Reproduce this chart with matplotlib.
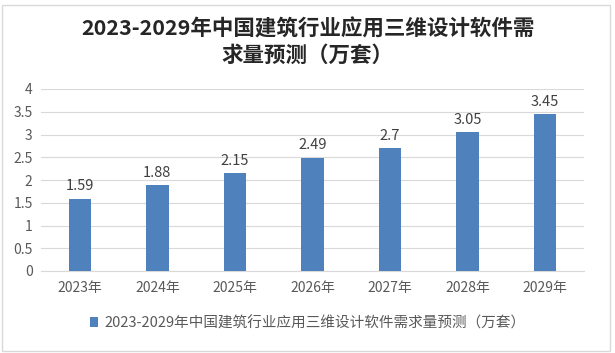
import matplotlib
matplotlib.use("Agg")
import matplotlib.pyplot as plt
from matplotlib.patches import Rectangle

plt.rcParams['font.family'] = ['Noto Sans CJK SC', 'DejaVu Sans']

years = ['2023年', '2024年', '2025年', '2026年', '2027年', '2028年', '2029年']
demand = [1.59, 1.88, 2.15, 2.49, 2.7, 3.05, 3.45]
title = '2023-2029年中国建筑行业应用三维设计软件需\n求量预测（万套）'
series_name = '2023-2029年中国建筑行业应用三维设计软件需求量预测（万套）'

fig = plt.figure(figsize=(6.15, 3.53), dpi=100)
ax = fig.add_axes([41/615, 1 - 271/353, (584-41)/615, (271-89)/353])

bars = ax.bar(range(len(years)), demand, width=0.29, color='#4f81bd', label=series_name, zorder=3)
for i, v in enumerate(demand):
    ax.text(i, v + 0.12, f'{v:g}', ha='center', va='bottom', fontsize=10.5, color='#404040')

ax.set_xlim(-0.5, len(years) - 0.5)
ax.set_ylim(0, 4)
ax.set_yticks([0, 0.5, 1, 1.5, 2, 2.5, 3, 3.5, 4])
ax.set_yticklabels(['0', '0.5', '1', '1.5', '2', '2.5', '3', '3.5', '4'])
ax.set_xticks(range(len(years)))
ax.set_xticklabels(years)
ax.tick_params(axis='both', length=0, labelsize=10, labelcolor='#595959')
ax.tick_params(axis='x', pad=7)
ax.tick_params(axis='y', pad=6)
ax.grid(axis='y', color='#d9d9d9', linewidth=0.8, zorder=0)
for s in ['top', 'right', 'left']:
    ax.spines[s].set_visible(False)
ax.spines['bottom'].set_color('#d9d9d9')

fig.text(0.5, 1 - 42/353, title, ha='center', va='center', fontsize=15.5,
         fontweight='bold', color='#262626', linespacing=1.3)

fig.legend(handles=[bars], labels=[series_name], loc='center', bbox_to_anchor=(0.5, 1 - 323/353),
           frameon=False, fontsize=10.5, labelcolor='#595959', handlelength=0.6, handleheight=0.6,
           handletextpad=0.4)

fig.add_artist(Rectangle((2/615, 2/353), 608/615, 346/353, transform=fig.transFigure,
                         fill=False, edgecolor='#d9d9d9', linewidth=1))

fig.savefig('out.png', dpi=100)
